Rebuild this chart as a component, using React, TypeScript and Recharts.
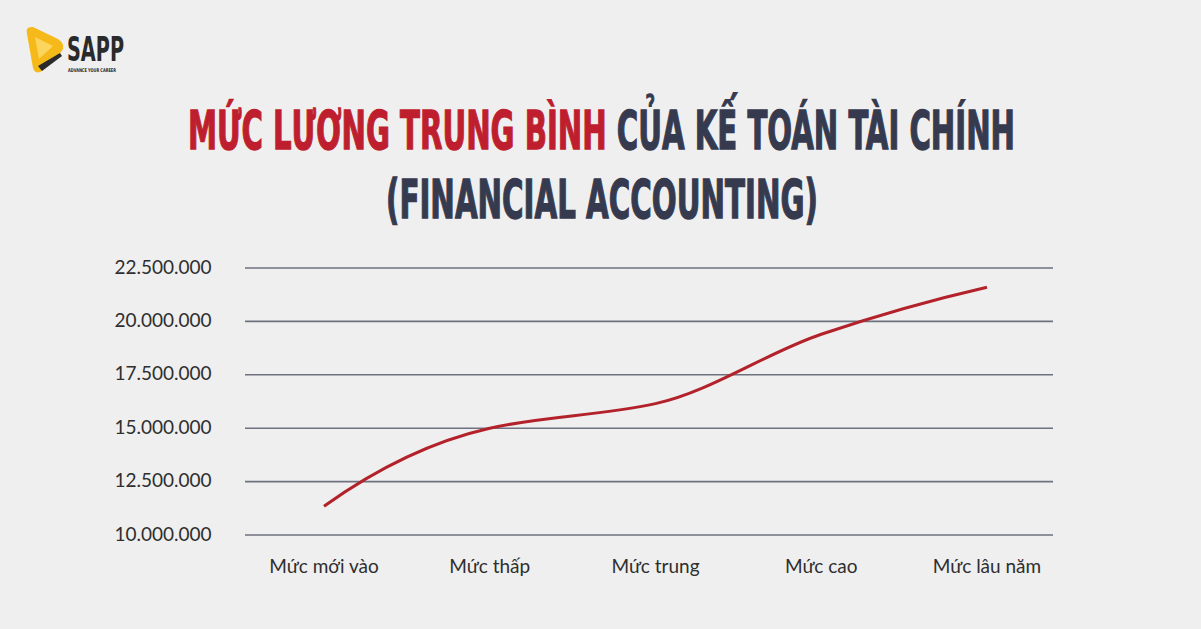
import React from "react";
import { LineChart, Line, XAxis, YAxis, CartesianGrid } from "recharts";

const levels = ["Mức mới vào", "Mức thấp", "Mức trung", "Mức cao", "Mức lâu năm"];
const salaries = [11350000, 15000000, 16150000, 19400000, 21600000];
const yTicks = [10000000, 12500000, 15000000, 17500000, 20000000, 22500000];

const titleRed = "MỨC LƯƠNG TRUNG BÌNH";
const titleDark = "CỦA KẾ TOÁN TÀI CHÍNH";
const titleLine2 = "(FINANCIAL ACCOUNTING)";

const data = levels.map((name, i) => ({ name, salary: salaries[i] }));

const fmt = (v: number) => String(v).replace(/\B(?=(\d{3})+(?!\d))/g, ".");

const TEXT_FONT = "Lato, 'Open Sans', sans-serif";
const TITLE_FONT = "'Liberation Sans Narrow', 'DejaVu Sans Condensed', sans-serif";

// smooth curve: harmonic-mean tangents inside, parabolic ends (gives the steep start)
const smoothCurve = (context: any) => {
  let xs: number[] = [];
  let ys: number[] = [];
  return {
    areaStart() {},
    areaEnd() {},
    lineStart() {
      xs = [];
      ys = [];
    },
    point(x: number, y: number) {
      xs.push(+x);
      ys.push(+y);
    },
    lineEnd() {
      const n = xs.length;
      if (!n) return;
      context.moveTo(xs[0], ys[0]);
      if (n === 1) return;
      if (n === 2) {
        context.lineTo(xs[1], ys[1]);
        return;
      }
      const s: number[] = [];
      for (let i = 0; i < n - 1; i++) s[i] = (ys[i + 1] - ys[i]) / (xs[i + 1] - xs[i]);
      const t: number[] = new Array(n);
      for (let i = 1; i < n - 1; i++) {
        t[i] = s[i - 1] * s[i] > 0 ? (2 * s[i - 1] * s[i]) / (s[i - 1] + s[i]) : 0;
      }
      t[0] = 2 * s[0] - t[1];
      t[n - 1] = 2 * s[n - 2] - t[n - 2];
      for (let i = 0; i < n - 1; i++) {
        const h = xs[i + 1] - xs[i];
        context.bezierCurveTo(
          xs[i] + h / 3,
          ys[i] + (t[i] * h) / 3,
          xs[i + 1] - h / 3,
          ys[i + 1] - (t[i + 1] * h) / 3,
          xs[i + 1],
          ys[i + 1]
        );
      }
    },
  };
};

const YTick = ({ x, y, payload }: any) => (
  <text
    x={x - 82}
    y={y}
    dy={-2}
    textAnchor="middle"
    dominantBaseline="central"
    fill="#2e2e2e"
    fontSize={19}
    fontFamily={TEXT_FONT}
  >
    {fmt(payload.value)}
  </text>
);

const XTick = ({ x, y, payload }: any) => (
  <text
    x={x}
    y={y}
    dy={30}
    textAnchor="middle"
    dominantBaseline="central"
    fill="#2e2e2e"
    fontSize={19}
    fontFamily={TEXT_FONT}
  >
    {payload.value}
  </text>
);

const Logo = () => (
  <g>
    <path d="M27 34 Q25 26 33 27 L58 39 Q67 45 61 52 L43 70 Q36 76 33 68 Z" fill="#F6B91A" />
    <path d="M35 37 L53 46 L39 59 Z" fill="#FBD55C" />
    <path d="M38 66 L60 53 L62 56 L42 71 Z" fill="#2a2a2a" />
    <g transform="translate(67 61) scale(1 1.3)">
      <text
        x={0}
        y={0}
        fontFamily={TITLE_FONT}
        fontWeight="bold"
        fontSize={26}
        fill="#2a2a2a"
        textLength={57}
        lengthAdjust="spacingAndGlyphs"
      >
        SAPP
      </text>
    </g>
    <text
      x={68}
      y={72}
      fontFamily={TITLE_FONT}
      fontWeight="bold"
      fontSize={5}
      fill="#2a2a2a"
      textLength={48}
      lengthAdjust="spacingAndGlyphs"
    >
      ADVANCE YOUR CAREER
    </text>
  </g>
);

const RED = "#BE1E2D";
const DARK = "#363A4F";

const Title = () => (
  <g fontFamily={TITLE_FONT} fontWeight="bold" fontSize={37} strokeWidth={0.9}>
    <g transform="translate(188 149) scale(1 1.46)">
      <text x={0} y={0} textLength={827} lengthAdjust="spacingAndGlyphs">
        <tspan fill={RED} stroke={RED}>
          {titleRed}
        </tspan>
        <tspan fill={DARK} stroke={DARK}>
          {" " + titleDark}
        </tspan>
      </text>
    </g>
    <g transform="translate(386 218) scale(1 1.46)">
      <text x={0} y={0} fill={DARK} stroke={DARK} textLength={432} lengthAdjust="spacingAndGlyphs">
        {titleLine2}
      </text>
    </g>
  </g>
);

export default function App() {
  return (
    <div
      style={{
        position: "fixed",
        left: 0,
        top: 0,
        width: 1201,
        height: 629,
        background: "#EFEFEF",
        overflow: "hidden",
      }}
    >
      <LineChart
        width={1201}
        height={629}
        data={data}
        margin={{ top: 268, right: 148, bottom: 34, left: 105 }}
      >
        <CartesianGrid vertical={false} stroke="#6E7180" strokeWidth={1.6} />
        <XAxis
          dataKey="name"
          height={60}
          axisLine={false}
          tickLine={false}
          tickSize={0}
          tickMargin={0}
          padding={{ left: 79, right: 66 }}
          tick={<XTick />}
          interval={0}
        />
        <YAxis
          width={140}
          domain={[10000000, 22500000]}
          ticks={yTicks}
          axisLine={false}
          tickLine={false}
          tickSize={0}
          tickMargin={0}
          tick={<YTick />}
          interval={0}
        />
        <Line
          type={smoothCurve as any}
          dataKey="salary"
          stroke="#B3222B"
          strokeWidth={3}
          dot={false}
          activeDot={false}
          isAnimationActive={false}
        />
      </LineChart>
      <svg
        width={1201}
        height={629}
        style={{ position: "absolute", left: 0, top: 0, pointerEvents: "none" }}
      >
        <Logo />
        <Title />
      </svg>
    </div>
  );
}
